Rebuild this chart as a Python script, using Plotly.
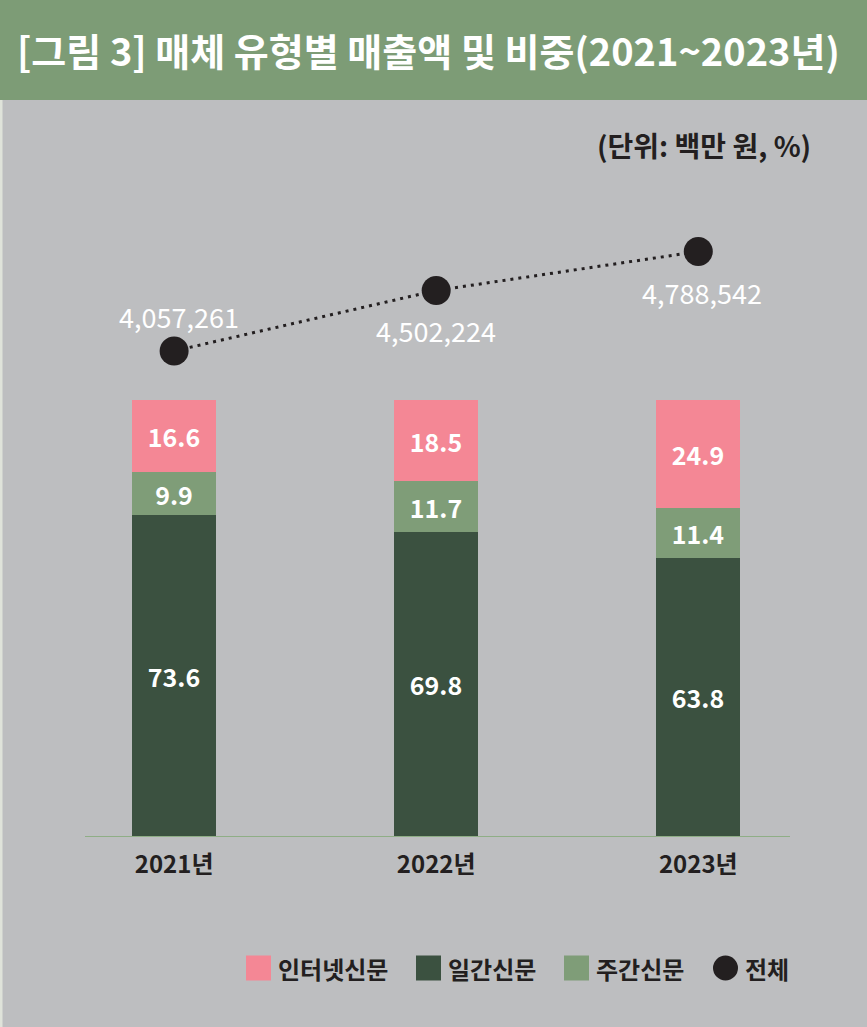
import plotly.graph_objects as go

# ── Data ────────────────────────────────────────────────────────────────
years = ["2021년", "2022년", "2023년"]
internet_share = [16.6, 18.5, 24.9]   # 인터넷신문 (%)
weekly_share = [9.9, 11.7, 11.4]      # 주간신문 (%)
daily_share = [73.6, 69.8, 63.8]      # 일간신문 (%)
total_sales = [4057261, 4502224, 4788542]  # 전체 (백만 원)

title_text = "[그림 3] 매체 유형별 매출액 및 비중(2021~2023년)"
unit_text = "(단위: 백만 원, %)"

# ── Style ───────────────────────────────────────────────────────────────
FONT = "Noto Sans CJK KR"
BG = "#bdbec0"
HEADER = "#7d9c76"
PINK = "#f48795"
LIGHT_GREEN = "#7f9d78"
DARK_GREEN = "#3b5140"
BLACK = "#231f20"

W, H = 867, 1027
L, R, T, B = 85, 77, 200, 191
PW, PH = W - L - R, H - T - B


def px_x(p):
    return (p - L) / PW


def px_y(p):
    return (H - B - p) / PH


xs = list(range(len(years)))

fig = go.Figure()

for name, vals, color in [
    ("일간신문", daily_share, DARK_GREEN),
    ("주간신문", weekly_share, LIGHT_GREEN),
    ("인터넷신문", internet_share, PINK),
]:
    fig.add_trace(go.Bar(
        x=xs, y=vals, name=name, width=0.32,
        marker=dict(color=color, line=dict(width=0)),
        text=[f"{v:.1f}" for v in vals],
        textposition="inside", insidetextanchor="middle", textangle=0,
        textfont=dict(family=FONT, size=25, color="white", weight=600),
        showlegend=False, hoverinfo="skip",
    ))

fig.add_trace(go.Scatter(
    x=xs, y=total_sales, yaxis="y2", mode="lines+markers", name="전체",
    line=dict(color=BLACK, width=3, dash="3px,5px"),
    marker=dict(color=BLACK, size=29),
    showlegend=False, hoverinfo="skip",
))

annotations = []
# total labels: first above the point, the rest below
offsets = [(5, 35), (0, -40), (4, -41)]
for i, v in enumerate(total_sales):
    dx, dy = offsets[i]
    annotations.append(dict(
        x=xs[i], y=v, xref="x", yref="y2", text=f"{v:,}", showarrow=False,
        xshift=dx, yshift=dy,
        font=dict(family=FONT, size=27, color="white"),
    ))

# header title and unit
annotations.append(dict(
    x=px_x(428), y=px_y(50), xref="paper", yref="paper", text=title_text,
    showarrow=False, xanchor="center", yanchor="middle",
    font=dict(family=FONT, size=38, color="white", weight="bold"),
))
annotations.append(dict(
    x=px_x(813), y=px_y(145), xref="paper", yref="paper", text=unit_text,
    showarrow=False, xanchor="right", yanchor="middle",
    font=dict(family=FONT, size=28, color=BLACK, weight="bold"),
))

# legend drawn by hand
shapes = [
    dict(type="rect", xref="paper", yref="paper",
         x0=px_x(0), x1=px_x(W), y0=px_y(100), y1=px_y(0),
         fillcolor=HEADER, line=dict(width=0), layer="below"),
    dict(type="rect", xref="paper", yref="paper",
         x0=px_x(0), x1=px_x(2.5), y0=px_y(H), y1=px_y(100),
         fillcolor="#dfe3da", line=dict(width=0), layer="below"),
]
legend_items = [
    ("인터넷신문", PINK, "rect", 246),
    ("일간신문", DARK_GREEN, "rect", 416),
    ("주간신문", LIGHT_GREEN, "rect", 564),
    ("전체", BLACK, "circle", 713),
]
ly = 968
for label, color, kind, x0 in legend_items:
    shapes.append(dict(
        type=kind, xref="paper", yref="paper",
        x0=px_x(x0), x1=px_x(x0 + 25), y0=px_y(ly + 12.5), y1=px_y(ly - 12.5),
        fillcolor=color, line=dict(width=0),
    ))
    annotations.append(dict(
        x=px_x(x0 + 30), y=px_y(ly), xref="paper", yref="paper", text=label,
        showarrow=False, xanchor="left", yanchor="middle",
        font=dict(family=FONT, size=24, color=BLACK, weight="bold"),
    ))

fig.update_layout(
    width=W, height=H,
    margin=dict(l=L, r=R, t=T, b=B, pad=0),
    paper_bgcolor=BG, plot_bgcolor=BG,
    barmode="stack", bargap=0,
    showlegend=False,
    xaxis=dict(
        range=[-0.34, 2.35], tickvals=xs, ticktext=years,
        showgrid=False, zeroline=False, showline=True,
        linecolor="#8fae86", linewidth=1, ticks="", ticklabelstandoff=7,
        tickfont=dict(family=FONT, size=24, color=BLACK, weight="bold"),
        fixedrange=True,
    ),
    yaxis=dict(
        range=[0, 100 * PH / 436], visible=False, showgrid=False,
        zeroline=False, fixedrange=True,
    ),
    yaxis2=dict(
        overlaying="y", range=[491085, 5167555], visible=False,
        showgrid=False, zeroline=False, fixedrange=True,
    ),
    shapes=shapes,
    annotations=annotations,
)

fig.write_html(
    "out.html",
    config={"displayModeBar": False},
    post_script="document.body.style.margin='0';",
)
